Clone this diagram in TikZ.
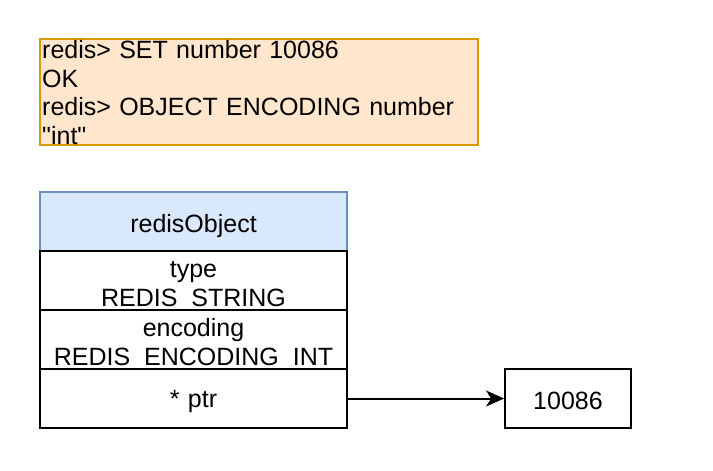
\documentclass[tikz,border=0pt]{standalone}
\usepackage{fontspec}
\setmainfont{Liberation Sans}[Ligatures=TeXOff]
\usetikzlibrary{arrows.meta}
\definecolor{cmdfill}{HTML}{FFE6CC}
\definecolor{cmdline}{HTML}{D79B00}
\definecolor{hdrfill}{HTML}{DAE8FC}
\definecolor{hdrline}{HTML}{6C8EBF}
\tikzset{
  basefont/.style={font=\fontsize{25pt}{29pt}\selectfont},
  cell/.style={draw=black, line width=1.8pt, rectangle, inner sep=0pt, minimum width=307pt, minimum height=59pt},
  celltext/.style={basefont, inner sep=0pt, text width=307pt, align=center, anchor=base},
  conn/.style={draw=black, line width=2pt, -{Stealth[length=18pt,width=16pt,inset=5pt]}},
}
\begin{document}
\begin{tikzpicture}[x=1pt,y=-1pt]
\useasboundingbox (0,0) rectangle (713,471);
% command box
\node[draw=cmdline, fill=cmdfill, line width=1.8pt, rectangle, inner sep=0pt,
      minimum width=438pt, minimum height=106pt] (cmd) at (259,92) {};
\node[basefont, inner sep=0pt, text width=436pt, align=left, anchor=base west] (cmdtext) at (42,58)
  {redis> SET number 10086\\OK\\redis> OBJECT ENCODING number\\"int"};
% redisObject table
\node[cell, draw=hdrline, fill=hdrfill] (hdr) at (193.5,221.5) {};
\node[cell] (rtype) at (193.5,280.5) {};
\node[cell] (renc) at (193.5,339.5) {};
\node[cell] (rptr) at (193.5,398.5) {};
\node[celltext] (thdr) at (193.5,232) {redisObject};
\node[celltext] (ttype) at (193.5,277) {type\\REDIS\_STRING};
\node[celltext] (tenc) at (193.5,336) {encoding\\REDIS\_ENCODING\_INT};
\node[celltext] (tptr) at (193.5,407) {* ptr};
% value box
\node[draw=black, line width=1.8pt, rectangle, inner sep=0pt, minimum width=126pt, minimum height=59pt,
      basefont] (val) at (568,398.5) {};
\node[basefont, inner sep=0pt, anchor=base] (tval) at (568,409) {10086};
% pointer
\draw[conn] (rptr.east) -- (val.west);
\end{tikzpicture}
\end{document}
